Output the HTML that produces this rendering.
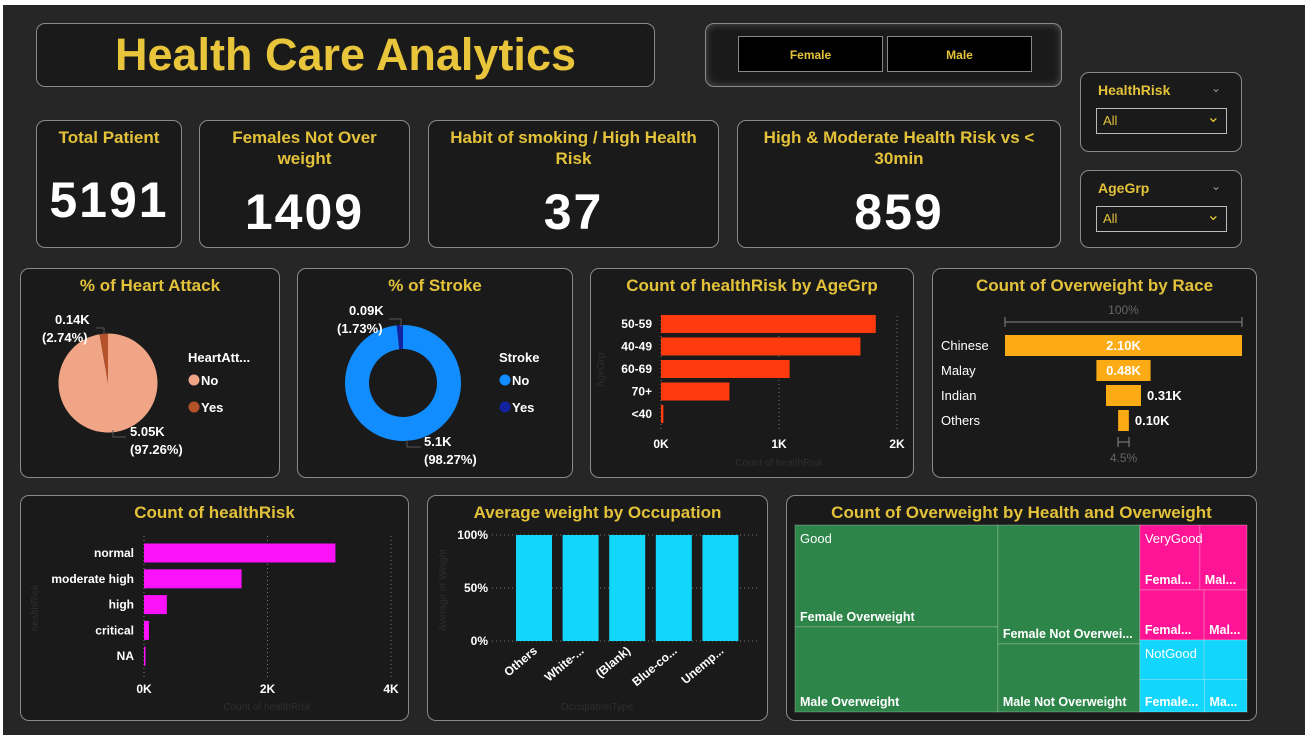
<!DOCTYPE html>
<html><head><meta charset="utf-8">
<style>
body{margin:0;width:1308px;height:739px;background:#fff;overflow:hidden;font-family:"Liberation Sans",sans-serif;}
#canvas{position:absolute;left:3px;top:5px;width:1302px;height:730px;background:#262626;}
.p{position:absolute;background:#1a1a1a;border:1px solid #8a8a8a;border-radius:9px;box-sizing:border-box;}
.t{position:absolute;left:0;right:0;text-align:center;color:#e3c23a;font-weight:bold;font-size:17px;line-height:21px;}
.v{position:absolute;left:0;right:0;text-align:center;color:#fff;font-size:50px;font-weight:bold;letter-spacing:2px;}
svg text{font-family:"Liberation Sans",sans-serif;}
</style></head><body>
<div id="canvas"></div>

<div class="p" style="left:36px;top:23px;width:619px;height:64px;">
 <div style="position:absolute;left:0;right:0;top:5px;text-align:center;color:#e8c53a;font-weight:bold;font-size:45px;">Health Care Analytics</div>
</div>

<div class="p" style="left:705px;top:23px;width:357px;height:64px;box-shadow:0 0 8px #555 inset;">
 <div style="position:absolute;left:32px;top:12px;width:145px;height:36px;background:#000;border:1px solid #888;color:#e3c23a;font-size:12px;font-weight:bold;text-align:center;line-height:36px;box-sizing:border-box;">Female</div>
 <div style="position:absolute;left:181px;top:12px;width:145px;height:36px;background:#000;border:1px solid #888;color:#e3c23a;font-size:12px;font-weight:bold;text-align:center;line-height:36px;box-sizing:border-box;">Male</div>
</div>

<div class="p" style="left:1080px;top:72px;width:162px;height:80px;">
 <div style="position:absolute;left:17px;top:9px;color:#e3c23a;font-weight:bold;font-size:14px;">HealthRisk</div>
 <div style="position:absolute;left:130px;top:8px;color:#999;font-size:12px;">&#8964;</div>
 <div style="position:absolute;left:15px;top:35px;width:131px;height:26px;border:1px solid #bbb;box-sizing:border-box;color:#e3c23a;font-size:13px;line-height:24px;padding-left:6px;">All<span style="position:absolute;right:6px;top:-3px;font-size:16px;">&#8964;</span></div>
</div>
<div class="p" style="left:1080px;top:170px;width:162px;height:78px;">
 <div style="position:absolute;left:17px;top:9px;color:#e3c23a;font-weight:bold;font-size:14px;">AgeGrp</div>
 <div style="position:absolute;left:130px;top:8px;color:#999;font-size:12px;">&#8964;</div>
 <div style="position:absolute;left:15px;top:35px;width:131px;height:26px;border:1px solid #bbb;box-sizing:border-box;color:#e3c23a;font-size:13px;line-height:24px;padding-left:6px;">All<span style="position:absolute;right:6px;top:-3px;font-size:16px;">&#8964;</span></div>
</div>

<div class="p" style="left:36px;top:120px;width:146px;height:128px;">
 <div class="t" style="top:6px;">Total Patient</div><div class="v" style="top:50px;">5191</div></div>
<div class="p" style="left:199px;top:120px;width:211px;height:128px;">
 <div class="t" style="top:6px;">Females Not Over<br>weight</div><div class="v" style="top:62px;">1409</div></div>
<div class="p" style="left:428px;top:120px;width:291px;height:128px;">
 <div class="t" style="top:6px;">Habit of smoking / High Health<br>Risk</div><div class="v" style="top:62px;">37</div></div>
<div class="p" style="left:737px;top:120px;width:324px;height:128px;">
 <div class="t" style="top:6px;">High &amp; Moderate Health Risk vs &lt;<br>30min</div><div class="v" style="top:62px;">859</div></div>

<div class="p" style="left:20px;top:268px;width:260px;height:210px;"><div class="t" style="top:6px;">% of Heart Attack</div></div>
<div class="p" style="left:297px;top:268px;width:276px;height:210px;"><div class="t" style="top:6px;">% of Stroke</div></div>
<div class="p" style="left:590px;top:268px;width:324px;height:210px;"><div class="t" style="top:6px;">Count of healthRisk by AgeGrp</div></div>
<div class="p" style="left:932px;top:268px;width:325px;height:210px;"><div class="t" style="top:6px;">Count of Overweight by Race</div></div>
<div class="p" style="left:20px;top:495px;width:389px;height:226px;"><div class="t" style="top:6px;">Count of healthRisk</div></div>
<div class="p" style="left:427px;top:495px;width:341px;height:226px;"><div class="t" style="top:6px;">Average weight by Occupation</div></div>
<div class="p" style="left:786px;top:495px;width:471px;height:226px;"><div class="t" style="top:6px;">Count of Overweight by Health and Overweight</div></div>

<svg id="s" width="1308" height="739" style="position:absolute;left:0;top:0;"></svg>

<script>
// ---- data ----
const heartLabels=["No","Yes"];
const heartValues=[5049,142];
const strokeLabels=["No","Yes"];
const strokeValues=[5100,90];
const ageCats=["50-59","40-49","60-69","70+","<40"];
const ageValues=[1820,1690,1090,580,20];
const ageTicks=["0K","1K","2K"];
const raceCats=["Chinese","Malay","Indian","Others"];
const raceValues=[2100,480,310,95];
const raceLabels=["2.10K","0.48K","0.31K","0.10K"];
const riskCats=["normal","moderate high","high","critical","NA"];
const riskValues=[3100,1580,370,80,20];
const riskTicks=["0K","2K","4K"];
const occCats=["Others","White-...","(Blank)","Blue-co...","Unemp..."];
const occValues=[1,1,1,1,1];
const occTicks=["0%","50%","100%"];
const tmGroups=["Good","VeryGood","NotGood"];
const tmGoodNames=["Female Overweight","Male Overweight","Female Not Overwei...","Male Not Overweight"];
const tmGoodValues=[2070,1730,1690,970];
const tmVGNames=["Femal...","Mal...","Femal...","Mal..."];
const tmVGValues=[390,307,322,215];
const tmNGNames=["","","Female...","Ma..."];
const tmNGValues=[255,170,210,138];

const S=document.getElementById('s');const NS="http://www.w3.org/2000/svg";
function mk(t,a,txt){const e=document.createElementNS(NS,t);for(const k in a)e.setAttribute(k,a[k]);if(txt!==undefined)e.textContent=txt;S.appendChild(e);return e;}

// ---- pie ----
function arc(cx,cy,r,r0,a0,a1){const p=(a,rr)=>[cx+rr*Math.sin(a),cy-rr*Math.cos(a)];const lg=(a1-a0)>Math.PI?1:0;
 const [x0,y0]=p(a0,r),[x1,y1]=p(a1,r);
 if(r0<=0)return `M${cx},${cy}L${x0},${y0}A${r},${r} 0 ${lg} 1 ${x1},${y1}Z`;
 const [x2,y2]=p(a1,r0),[x3,y3]=p(a0,r0);
 return `M${x0},${y0}A${r},${r} 0 ${lg} 1 ${x1},${y1}L${x2},${y2}A${r0},${r0} 0 ${lg} 0 ${x3},${y3}Z`;}
function donut(cx,cy,r,r0,vals,cols,name){const tot=vals.reduce((a,b)=>a+b,0);
 let a=-vals[1]/tot*2*Math.PI;
 const aa=[[0,2*Math.PI+a],[a,0]];
 vals.forEach((v,i)=>{const e=mk('path',{d:arc(cx,cy,r,r0,aa[i][0],aa[i][1]-(i==0?0.0001:0)),fill:cols[i]});
 });}
donut(108,383,49.5,0,heartValues,["#f0a586","#b5522a"],"heart");
donut(403,383,58,34,strokeValues,["#118dff","#12239e"],"stroke");
function lbl(x,y,t,anchor){const e=mk('text',{x:x,y:y,fill:'#fff','font-size':13,'font-weight':'bold','text-anchor':anchor||'start'},t);}
const htot=heartValues[0]+heartValues[1];
lbl(55,324,(heartValues[1]/1000).toFixed(2)+"K");lbl(42,342,"("+(heartValues[1]/htot*100).toFixed(2)+"%)");
lbl(130,436,(heartValues[0]/1000).toFixed(2)+"K");lbl(130,454,"("+(heartValues[0]/htot*100).toFixed(2)+"%)");
mk('path',{d:'M96,328H104V335',stroke:'#555',fill:'none'});mk('path',{d:'M113,430V437H126',stroke:'#555',fill:'none'});
const stot=strokeValues[0]+strokeValues[1];
lbl(349,315,(strokeValues[1]/1000).toFixed(2)+"K");lbl(337,333,"("+(strokeValues[1]/stot*100).toFixed(2)+"%)");
lbl(424,446,(strokeValues[0]/1000).toFixed(1)+"K");lbl(424,464,"("+(strokeValues[0]/stot*100).toFixed(2)+"%)");
mk('path',{d:'M389,319H401V327',stroke:'#555',fill:'none'});mk('path',{d:'M407,440V447H421',stroke:'#555',fill:'none'});
function legend(x,title,labels,cols){mk('text',{x:x,y:362,fill:'#fff','font-size':13,'font-weight':'bold'},title);
 labels.forEach((l,i)=>{const y=380+i*27;const c=mk('circle',{cx:x+6,cy:y,r:5.5,fill:cols[i]});
 mk('text',{x:x+13,y:y+5,fill:'#fff','font-size':13,'font-weight':'bold'},l);});}
legend(188,"HeartAtt...",heartLabels,["#f0a586","#b5522a"]);
legend(499,"Stroke",strokeLabels,["#118dff","#12239e"]);

// ---- horizontal bars ----
function hbar(cats,vals,ticks,x0,x1,max,yc,step,h,col,name,labX,tickY,axTitle,axTitleX,axTitleY,yTitle,yTX,yTY,gTop,gBot){
 const sx=v=>x0+v/max*(x1-x0);
 ticks.forEach((t,i)=>{const x=x0+i*(x1-x0)/(ticks.length-1);mk('line',{x1:x,x2:x,y1:gTop,y2:gBot,stroke:'#777','stroke-dasharray':'1,3'});
 mk('text',{x:x,y:tickY,fill:'#fff','font-size':12,'font-weight':'bold','text-anchor':'middle'},t);});
 cats.forEach((c,i)=>{const y=yc+i*step;const r=mk('rect',{x:x0,y:y-h/2,width:Math.max(1.5,sx(vals[i])-x0),height:h,fill:col});
 
 mk('text',{x:labX,y:y+4,fill:'#fff','font-size':12,'font-weight':'bold','text-anchor':'end'},c);});
 mk('text',{x:axTitleX,y:axTitleY,fill:'#2e2e2e','font-size':10,'text-anchor':'middle'},axTitle);
 mk('text',{x:yTX,y:yTY,fill:'#2e2e2e','font-size':10,'text-anchor':'middle',transform:`rotate(-90 ${yTX} ${yTY})`},yTitle);}
hbar(ageCats,ageValues,ageTicks,661,897,2000,324,22.5,18,"#ff3a0e","age",652,448,"Count of healthRisk",779,466,"AgeGrp",604,370,316,430);
hbar(riskCats,riskValues,riskTicks,144,391,4000,553,25.8,19,"#fb12fb","risk",134,693,"Count of healthRisk",267,710,"healthRisk",38,608,536,680);

// ---- funnel ----
(function(){const cx=1123.5,full=237,max=raceValues[0];
 mk('line',{x1:1005,x2:1242,y1:322,y2:322,stroke:'#888'});mk('line',{x1:1005,x2:1005,y1:317,y2:327,stroke:'#888'});mk('line',{x1:1242,x2:1242,y1:317,y2:327,stroke:'#888'});
 mk('text',{x:cx,y:314,fill:'#666','font-size':12,'text-anchor':'middle'},"100%");
 raceCats.forEach((c,i)=>{const w=raceValues[i]/max*full;const y=335+i*25;
 const r=mk('rect',{x:cx-w/2,y:y,width:w,height:21,fill:'#fdab14'});
 mk('text',{x:941,y:y+15,fill:'#fff','font-size':13},c);
 const inside=w>50;mk('text',{x:inside?cx:cx+w/2+6,y:y+15,fill:'#fff','font-size':13,'font-weight':'bold','text-anchor':inside?'middle':'start'},raceLabels[i]);});
 const pct=(raceValues[3]/max*100).toFixed(1)+"%";
 mk('path',{d:'M1118,437V447M1129,437V447M1118,442H1129',stroke:'#888',fill:'none'});
 mk('text',{x:cx,y:462,fill:'#666','font-size':12,'text-anchor':'middle'},pct);})();

// ---- columns ----
(function(){const y0=641,y1=535,xs=516,step=46.6,w=36;
 occTicks.forEach((t,i)=>{const y=y0-i*(y0-y1)/2;mk('line',{x1:492,x2:760,y1:y,y2:y,stroke:'#777','stroke-dasharray':'1,3'});
 mk('text',{x:488,y:y+4,fill:'#fff','font-size':12,'font-weight':'bold','text-anchor':'end'},t);});
 occCats.forEach((c,i)=>{const h=occValues[i]*(y0-y1);const x=xs+i*step;
 const r=mk('rect',{x:x,y:y0-h,width:w,height:h,fill:'#12d6fb'});
 const tx=x+w/2+4,ty=652;mk('text',{x:tx,y:ty,fill:'#fff','font-size':12,'font-weight':'bold','text-anchor':'end',transform:`rotate(-40 ${tx} ${ty})`},c);});
 mk('text',{x:597,y:710,fill:'#2e2e2e','font-size':10,'text-anchor':'middle'},"OccupationType");
 mk('text',{x:446,y:590,fill:'#2e2e2e','font-size':10,'text-anchor':'middle',transform:'rotate(-90 446 590)'},"Average of Weight");})();

// ---- treemap ----
(function(){const X=795,Y=525,W=452,H=187;
 const g=tmGoodValues.reduce((a,b)=>a+b,0),vg=tmVGValues.reduce((a,b)=>a+b,0),ng=tmNGValues.reduce((a,b)=>a+b,0);
 const gw=W*g/(g+vg+ng);
 function rect(x,y,w,h,f,name,label){const r=mk('rect',{x:x,y:y,width:w,height:h,fill:f,stroke:'rgba(255,255,255,0.25)','stroke-width':1});
  
  if(label)mk('text',{x:x+5,y:y+h-6,fill:'#fff','font-size':12.5,'font-weight':'bold'},label);}
 const c1=tmGoodValues[0]+tmGoodValues[1],c2=tmGoodValues[2]+tmGoodValues[3];
 const w1=gw*c1/(c1+c2);
 let h=H*tmGoodValues[0]/c1;rect(X,Y,w1,h,'#2e8549','good-female-ow',tmGoodNames[0]);rect(X,Y+h,w1,H-h,'#2e8549','good-male-ow',tmGoodNames[1]);
 h=H*tmGoodValues[2]/c2;rect(X+w1,Y,gw-w1,h,'#2e8549','good-female-not',tmGoodNames[2]);rect(X+w1,Y+h,gw-w1,H-h,'#2e8549','good-male-not',tmGoodNames[3]);
 mk('text',{x:X+5,y:Y+18,fill:'#fff','font-size':13},tmGroups[0]);
 const rx=X+gw,rw=W-gw;const vh=H*vg/(vg+ng);
 function quad(vals,names,y,hh,col,n){const top=vals[0]+vals[1],bot=vals[2]+vals[3];const th=hh*top/(top+bot);
  let w=rw*vals[0]/top;rect(rx,y,w,th,col,n+'-0',names[0]);rect(rx+w,y,rw-w,th,col,n+'-1',names[1]);
  w=rw*vals[2]/bot;rect(rx,y+th,w,hh-th,col,n+'-2',names[2]);rect(rx+w,y+th,rw-w,hh-th,col,n+'-3',names[3]);}
 quad(tmVGValues,tmVGNames,Y,vh,'#fe1494','verygood');
 quad(tmNGValues,tmNGNames,Y+vh,H-vh,'#12d6fb','notgood');
 mk('text',{x:rx+5,y:Y+18,fill:'#fff','font-size':13},tmGroups[1]);
 mk('text',{x:rx+5,y:Y+vh+18,fill:'#fff','font-size':13},tmGroups[2]);})();
</script>
</body></html>
